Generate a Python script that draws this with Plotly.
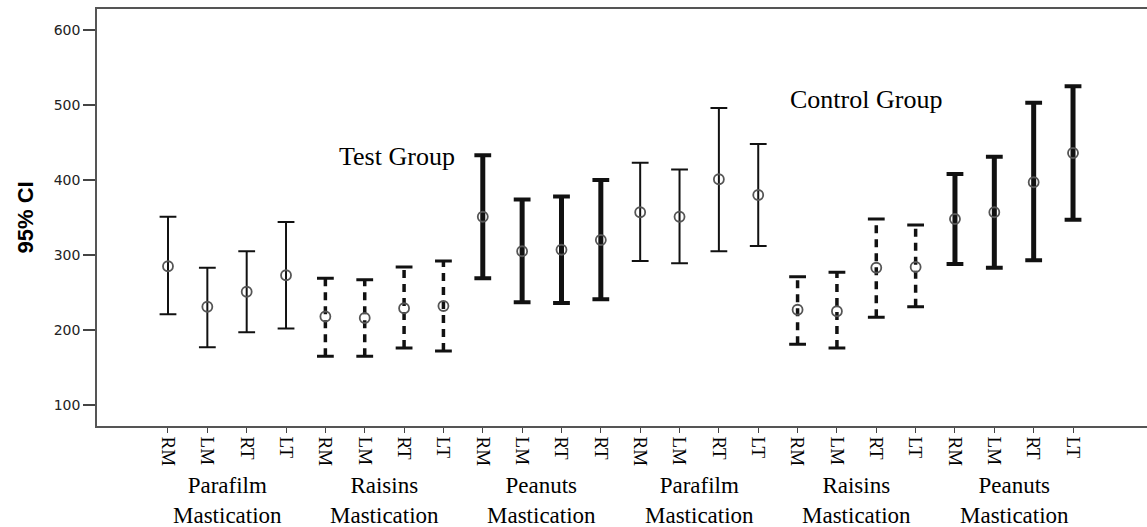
import plotly.graph_objects as go

# ---- data ----
tick_labels = ["RM", "LM", "RT", "LT", "RM", "LM", "RT", "LT", "RM", "LM", "RT", "RT",
               "RM", "LM", "RT", "LT", "RM", "LM", "RT", "LT", "RM", "LM", "RT", "LT"]
foods = (["Parafilm"] * 4 + ["Raisins"] * 4 + ["Peanuts"] * 4) * 2
group_labels = ["Parafilm<br>Mastication", "Raisins<br>Mastication", "Peanuts<br>Mastication",
                "Parafilm<br>Mastication", "Raisins<br>Mastication", "Peanuts<br>Mastication"]
means = [285, 231, 251, 273, 218, 216, 229, 232, 351, 305, 307, 320,
         357, 351, 401, 380, 227, 225, 283, 284, 348, 357, 397, 436]
upper = [351, 283, 305, 344, 269, 267, 284, 292, 433, 374, 378, 400,
         423, 414, 496, 448, 271, 277, 348, 340, 408, 431, 503, 525]
lower = [221, 177, 197, 202, 165, 165, 176, 172, 269, 237, 236, 241,
         292, 289, 305, 312, 181, 176, 217, 231, 288, 283, 293, 347]
y_ticks = [100, 200, 300, 400, 500, 600]

# ---- styles ----
style = {
    "Parafilm": dict(width=2, dash="solid", cap=2),
    "Raisins": dict(width=3.5, dash="8px,6px", cap=3),
    "Peanuts": dict(width=5, dash="solid", cap=4),
}
ink = "#111111"
serif = "Liberation Serif, Times New Roman, serif"

fig = go.Figure()
xs = list(range(len(means)))

for i in xs:
    st = style[foods[i]]
    fig.add_trace(go.Scatter(
        x=[i, i], y=[lower[i], upper[i]], mode="lines",
        line=dict(color=ink, width=st["width"], dash=st["dash"]),
        hoverinfo="skip", showlegend=False))

for food, st in style.items():
    idx = [i for i in xs if foods[i] == food]
    fig.add_trace(go.Scatter(
        x=[i for i in idx] * 2,
        y=[upper[i] for i in idx] + [lower[i] for i in idx],
        mode="markers",
        marker=dict(symbol="line-ew", size=12, line=dict(color=ink, width=st["cap"])),
        hoverinfo="skip", showlegend=False))

fig.add_trace(go.Scatter(
    x=xs, y=means, mode="markers",
    marker=dict(symbol="circle-open", size=10, color="#555555", line=dict(width=1.8)),
    showlegend=False))

# group labels below the axis
for g, lab in enumerate(group_labels):
    fig.add_annotation(x=g * 4 + 1.5, y=-0.108, xref="x", yref="paper",
                       text=lab, showarrow=False, yanchor="top", xanchor="center",
                       font=dict(family=serif, size=23, color="#000"))

fig.add_annotation(x=5.82, y=431, xref="x", yref="y", text="Test Group", showarrow=False,
                   font=dict(family=serif, size=26, color="#000"))
fig.add_annotation(x=17.74, y=507, xref="x", yref="y", text="Control Group", showarrow=False,
                   font=dict(family=serif, size=26, color="#000"))

# y-axis title
fig.add_annotation(x=-72 / 1050, y=0.5, xref="paper", yref="paper", text="<b>95% CI</b>",
                   textangle=-90, showarrow=False, xanchor="center", yanchor="middle",
                   font=dict(family="Liberation Sans Narrow, Liberation Sans, Arial", size=22, color="#000"))

fig.update_layout(
    width=1147, height=527,
    margin=dict(l=97, r=0, t=9, b=101),
    paper_bgcolor="white", plot_bgcolor="white",
    xaxis=dict(
        range=[-1.804, 24.88], tickmode="array", tickvals=xs, ticktext=tick_labels,
        tickangle=90, ticks="outside", ticklen=5, tickcolor="#444", tickwidth=1,
        showgrid=False, zeroline=False, showline=True, linecolor="#555", linewidth=1.5,
        mirror=True,
        tickfont=dict(family=serif, size=19, color="#000")),
    yaxis=dict(
        range=[72, 628], tickmode="array", tickvals=y_ticks,
        ticks="outside", ticklen=12, tickcolor="#444", tickwidth=1.5,
        showgrid=False, zeroline=False, showline=True, linecolor="#555", linewidth=1.5,
        tickfont=dict(family="DejaVu Sans, Arial", size=14, color="#222")),
)

fig.write_html("out.html", config={"displayModeBar": False},
               post_script="document.body.style.margin='0';document.body.style.overflow='hidden';")
